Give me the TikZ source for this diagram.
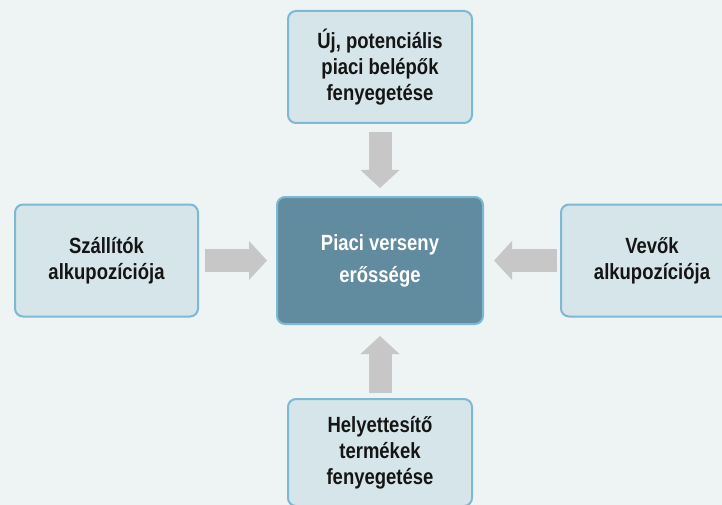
\documentclass[tikz,border=0pt]{standalone}
\usepackage{fontspec}
\newfontfamily\narrowsans{Liberation Sans}[FakeStretch=0.84]
\usepackage{tikz}
\usetikzlibrary{arrows.meta, positioning}
\usepackage{xcolor}
\definecolor{bgcol}{HTML}{EEF3F4}
\definecolor{boxfill}{HTML}{D6E5E9}
\definecolor{boxline}{HTML}{7DB9D5}
\definecolor{corefill}{HTML}{618B9F}
\definecolor{arrgray}{HTML}{C7C7C8}
\definecolor{txtdark}{HTML}{151515}

\begin{document}
\begin{tikzpicture}[
  x=1pt, y=-1pt,
  node distance = 72pt and 77pt,
  force/.style = {rectangle, rounded corners=8pt, draw=boxline, line width=2pt,
                  fill=boxfill, minimum width=183pt, minimum height=112pt,
                  text=txtdark, align=center,
                  font=\narrowsans\bfseries\fontsize{22}{26}\selectfont},
  core/.style  = {rectangle, rounded corners=8pt, draw=boxline, line width=2pt,
                  fill=corefill, minimum width=206pt, minimum height=127pt,
                  text=white, align=center,
                  font=\narrowsans\bfseries\fontsize{22}{32}\selectfont},
  fat/.style   = {line width=23pt, draw=arrgray,
                  -{Triangle[length=18pt, width=38pt, fill=arrgray]}}
]

% background and frame
\clip (0,0) rectangle (722,505);
\fill[bgcol] (0,0) rectangle (722,505);

\node[core] (verseny) at (380,260.5) {Piaci verseny\\erőssége};
\node[force, left=77pt of verseny] (szallitok) {Szállítók\\alkupozíciója};
\node[force, right=76pt of verseny, minimum width=182pt] (vevok) {Vevők\\alkupozíciója};
\node[force, above=72pt of verseny, minimum width=184pt] (belepok) {Új, potenciális\\piaci belépők\\fenyegetése};
\node[force, below=73pt of verseny, minimum width=184pt, minimum height=107pt] (helyettesito) {Helyettesítő\\termékek\\fenyegetése};

% the four forces
\draw[fat, shorten <=8pt, shorten >=8pt] (belepok.south) -- (verseny.north);
\draw[fat, shorten <=6pt, shorten >=9pt] (szallitok.east) -- (verseny.west);
\draw[fat, shorten <=3pt, shorten >=10pt] (vevok.west) -- (verseny.east);
\draw[fat, shorten <=5pt, shorten >=11pt] (helyettesito.north) -- (verseny.south);

\end{tikzpicture}
\end{document}
